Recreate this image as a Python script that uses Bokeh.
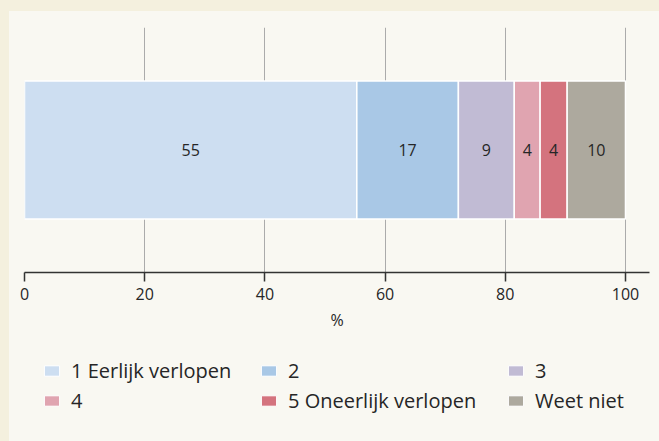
from bokeh.plotting import figure
from bokeh.layouts import column
from bokeh.models import (ColumnDataSource, Range1d, FactorRange, FixedTicker, Legend,
                          GlobalInlineStyleSheet)
from bokeh.core.properties import value
from bokeh.embed import file_html
from bokeh.resources import INLINE
import numpy as np

# ---- data ----
category = [""]
series_names = ["1 Eerlijk verlopen", "2", "3", "4", "5 Oneerlijk verlopen", "Weet niet"]
series_values = [55.3, 16.9, 9.3, 4.3, 4.5, 9.7]
series_labels = ["55", "17", "9", "4", "4", "10"]
series_colors = ["#CDDEF1", "#A9C8E6", "#C1BBD4", "#E0A4B0", "#D4737E", "#ADA99E"]
x_ticks = [0, 20, 40, 60, 80, 100]
x_label = "%"

FONT = "Open Sans"
TXT = "#262626"
PANEL = "#F9F8F2"

keys = [f"s{i}" for i in range(len(series_values))]
data = {"cat": category}
for k, v in zip(keys, series_values):
    data[k] = [v]
source = ColumnDataSource(data)

# ---- main chart ----
main = figure(width=659, height=341, y_range=category, x_range=Range1d(0, 104),
              output_backend="svg", toolbar_location=None, y_axis_location=None,
              min_border_left=24, min_border_top=27, min_border_right=10,
              min_border_bottom=69)
main.background_fill_color = PANEL
main.border_fill_color = None
main.outline_line_color = None

renderers = main.hbar_stack(keys, y="cat", height=0.563, color=series_colors,
                            line_color="white", line_width=1.5, source=source)

vals = np.array(series_values)
ends = np.cumsum(vals)
mids = ends - vals / 2
main.text(x=list(mids), y=category * len(vals), text=series_labels,
          text_align="center", text_baseline="middle",
          text_font=value(FONT), text_font_size="16px", text_color=TXT)

main.xaxis.ticker = FixedTicker(ticks=x_ticks)
main.xaxis.minor_tick_line_color = None
main.xaxis.major_tick_in = 0
main.xaxis.major_tick_out = 9
main.xaxis.major_tick_line_color = "#333333"
main.xaxis.major_tick_line_width = 1.5
main.xaxis.axis_line_color = "#333333"
main.xaxis.axis_line_width = 1.5
main.xaxis.major_label_text_font = FONT
main.xaxis.major_label_text_font_size = "16px"
main.xaxis.major_label_text_color = TXT
main.xaxis.major_label_standoff = 6
main.xaxis.axis_label = x_label
main.xaxis.axis_label_text_font = FONT
main.xaxis.axis_label_text_font_size = "16px"
main.xaxis.axis_label_text_font_style = "normal"
main.xaxis.axis_label_text_color = TXT
main.xaxis.axis_label_standoff = 6
main.xgrid.grid_line_color = "#ABABAB"
main.xgrid.grid_line_width = 1
main.ygrid.grid_line_color = None

# ---- legend strip: same stacked series, mapped to a factor that is not shown ----
leg = figure(width=659, height=100, x_range=Range1d(0, 104),
             y_range=FactorRange(factors=["legend"]),
             output_backend="svg", toolbar_location=None,
             x_axis_location=None, y_axis_location=None,
             min_border=0, min_border_left=0, min_border_right=0,
             min_border_top=0, min_border_bottom=0)
leg.background_fill_color = PANEL
leg.border_fill_color = None
leg.outline_line_color = None
leg.grid.visible = False

swatches = leg.hbar_stack(keys, y="cat", height=0.563, color=series_colors,
                          line_color="white", line_width=1, source=source)

columns = [[0, 3], [1, 4], [2, 5]]
col_x = [18, 235, 482]
for idxs, cx in zip(columns, col_x):
    lg = Legend(items=[(series_names[i], [swatches[i]]) for i in idxs],
                orientation="vertical", location=(cx, 27))
    lg.label_text_font = FONT
    lg.label_text_font_size = "20px"
    lg.label_text_color = TXT
    lg.glyph_width = 19
    lg.glyph_height = 13
    lg.label_standoff = 10
    lg.spacing = 3
    lg.padding = 0
    lg.margin = 0
    lg.background_fill_alpha = 0
    lg.border_line_color = None
    leg.add_layout(lg)

p = column(main, leg, spacing=0)
p.stylesheets = [GlobalInlineStyleSheet(css=(
    "html { background: linear-gradient(90deg, #F4F0DE 9px, rgba(0,0,0,0) 9px) fixed,"
    " linear-gradient(180deg, #F4F0DE 11px, #F9F8F2 11px) fixed; }"
    " body { background: transparent; }"))]

open("out.html", "w").write(file_html(p, INLINE))
